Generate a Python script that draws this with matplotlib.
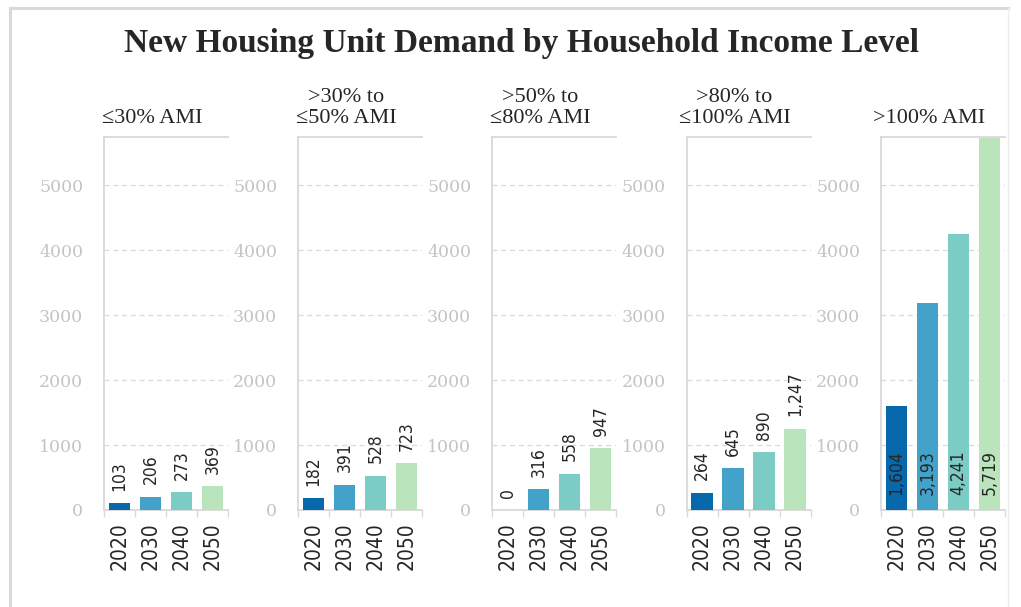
import numpy as np
import matplotlib.pyplot as plt
from matplotlib.lines import Line2D

years = ["2020", "2030", "2040", "2050"]
groups = ["≤30% AMI", ">30% to\n≤50% AMI", ">50% to\n≤80% AMI",
          ">80% to\n≤100% AMI", ">100% AMI"]
ami_30 = [103, 206, 273, 369]
ami_50 = [182, 391, 528, 723]
ami_80 = [0, 316, 558, 947]
ami_100 = [264, 645, 890, 1247]
ami_over = [1604, 3193, 4241, 5719]
series = [ami_30, ami_50, ami_80, ami_100, ami_over]
y_ticks = [0, 1000, 2000, 3000, 4000, 5000]

colors = ["#0868ac", "#43a2ca", "#7bccc4", "#bae4bc"]
serif = ["Liberation Serif", "DejaVu Serif"]
narrow = ["DejaVu Sans"]

W, H = 1021, 607
fig = plt.figure(figsize=(W / 100, H / 100), dpi=100)

# outer chart border
fig.add_artist(Line2D([10 / W, 10 / W], [-0.1, 1 - 8 / H], transform=fig.transFigure,
                      color="#d9d9d9", lw=2.2))
fig.add_artist(Line2D([10 / W, 1008 / W], [1 - 8 / H, 1 - 8 / H], transform=fig.transFigure,
                      color="#d9d9d9", lw=2.2))
fig.add_artist(Line2D([1008 / W, 1008 / W], [-0.1, 1 - 8 / H], transform=fig.transFigure,
                      color="#eeeeee", lw=1))

fig.text(521 / W, 1 - 52 / H, "New Housing Unit Demand by Household Income Level",
         ha="center", va="baseline", fontsize=24, fontweight="bold",
         family=serif, color="#262626")

lefts = [104, 298, 492, 686.5, 881]
x = np.arange(len(years))

for i, (left, vals, name) in enumerate(zip(lefts, series, groups)):
    ax = fig.add_axes([left / W, 97 / H, 124 / W, 373 / H])
    ax.bar(x, vals, width=0.7, color=colors, zorder=3)
    ax.set_xlim(-0.5, 3.5)
    ax.set_ylim(0, 5740)
    ax.set_yticks(y_ticks)
    ax.set_yticklabels([str(t) for t in y_ticks], family="DejaVu Serif", fontsize=12.5,
                       color="#c4c4c4")
    ax.tick_params(axis="y", length=0, pad=15)
    for g in y_ticks[1:]:
        ax.axhline(g, color="#d9d9d9", lw=0.9, ls=(0, (4, 3)), zorder=1)

    ax.set_xticks(np.arange(-0.5, 4, 1))
    ax.set_xticklabels([])
    ax.tick_params(axis="x", which="major", length=5, color="#d9d9d9", width=1)
    ax.set_xticks(x, minor=True)
    ax.set_xticklabels(years, minor=True, rotation=90, fontsize=15,
                       family=narrow, stretch="condensed", color="#262626")
    ax.tick_params(axis="x", which="minor", length=0, pad=9)

    for s in ["left", "bottom", "top"]:
        ax.spines[s].set_color("#d9d9d9")
        ax.spines[s].set_linewidth(1.3)
    ax.spines["right"].set_visible(False)

    for xi, v in zip(x, vals):
        lab = f"{v:,}"
        if i == 4:
            ax.annotate(lab, (xi, 0), xytext=(0, 11), textcoords="offset points",
                        rotation=90, ha="center", va="bottom", fontsize=12.5,
                        family=narrow, stretch="condensed", color="#262626", zorder=4)
        else:
            ax.annotate(lab, (xi, v), xytext=(0, 9), textcoords="offset points",
                        rotation=90, ha="center", va="bottom", fontsize=12.5,
                        family=narrow, stretch="condensed", color="#262626", zorder=4)

    fig.text((left + 62 - 14) / W, 1 - 123 / H, name, ha="center", va="baseline",
             fontsize=16, family=serif, color="#262626", linespacing=1.15)

fig.savefig("out.png", dpi=100)
